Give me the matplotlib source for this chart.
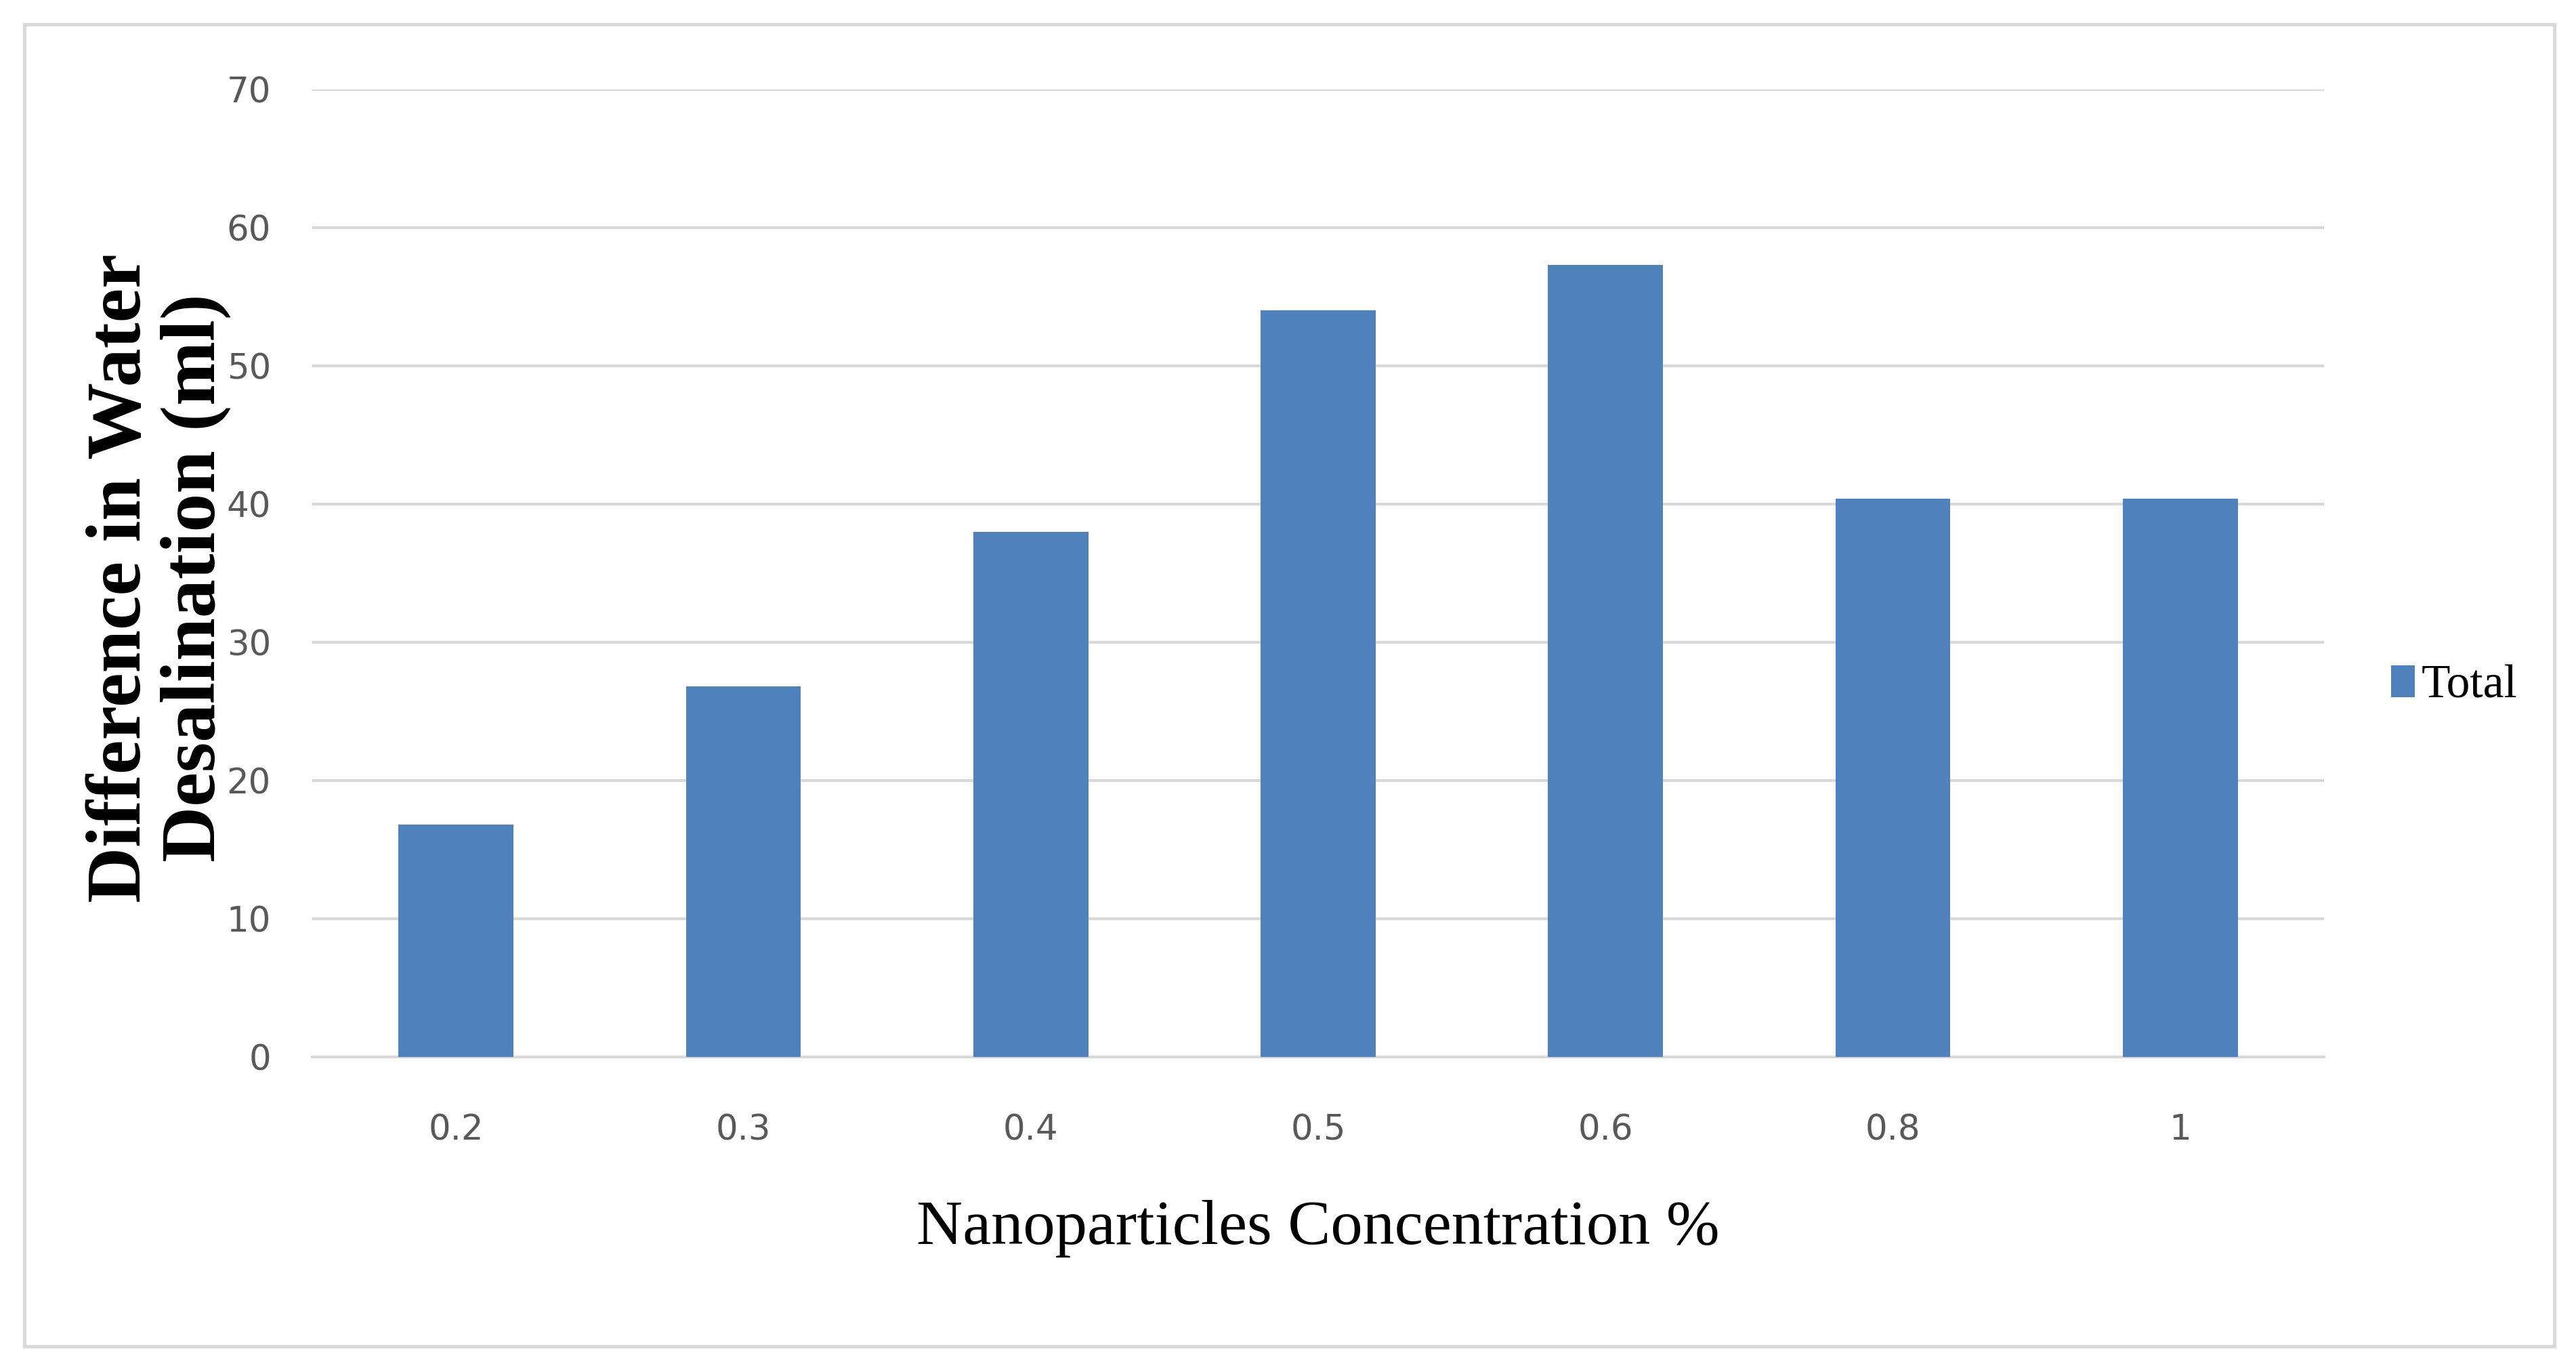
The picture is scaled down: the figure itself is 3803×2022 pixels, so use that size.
import matplotlib
matplotlib.use("Agg")
import matplotlib.pyplot as plt
from matplotlib.patches import Rectangle, Patch

categories = ["0.2", "0.3", "0.4", "0.5", "0.6", "0.8", "1"]
totals = [16.8, 26.8, 38.0, 54.0, 57.3, 40.4, 40.4]
yticks = [0, 10, 20, 30, 40, 50, 60, 70]
series_name = "Total"

W, H = 3803, 2022
DPI = 100
fig = plt.figure(figsize=(W / DPI, H / DPI), dpi=DPI, facecolor="white")

# outer chart border
fig.patches.append(Rectangle((36 / W, 1 - 1987 / H), (3771 - 36) / W, (1987 - 36) / H,
                             transform=fig.transFigure, fill=False,
                             edgecolor="#d9d9d9", linewidth=3.5, zorder=0))

ax = fig.add_axes([461 / W, 1 - 1560 / H, (3431 - 461) / W, (1560 - 132) / H])
x = list(range(len(categories)))
ax.bar(x, totals, width=0.4, color="#4f81bd", zorder=3, label=series_name)
ax.set_xlim(-0.5, len(categories) - 0.5)
ax.set_ylim(0, 70)
ax.set_yticks(yticks)
ax.set_xticks(x)
ax.set_xticklabels(categories)
ax.grid(axis="y", color="#d9d9d9", linewidth=3.0, zorder=0)
ax.set_axisbelow(True)
for s in ["top", "right", "left"]:
    ax.spines[s].set_visible(False)
ax.spines["bottom"].set_color("#d9d9d9")
ax.spines["bottom"].set_linewidth(3.0)

tick_font = ["Liberation Sans Narrow", "DejaVu Sans"]
for lab in ax.get_xticklabels() + ax.get_yticklabels():
    lab.set_fontfamily(tick_font)
    lab.set_fontsize(37)
    lab.set_color("#595959")
ax.tick_params(axis="y", length=0, pad=44)
ax.tick_params(axis="x", length=0, pad=60)

ax.set_ylabel("Difference in Water\nDesalination (ml)", fontfamily="Liberation Serif",
              fontweight="bold", fontsize=82, linespacing=1.08, color="black")
ax.yaxis.label.set_verticalalignment("center")
ax.yaxis.label.set_horizontalalignment("center")
ax.yaxis.set_label_coords((234 - 461) / (3431 - 461), (1560 - 853) / (1560 - 132))

ax.set_xlabel("Nanoparticles Concentration %", fontfamily="Liberation Serif",
              fontsize=68, color="black")
ax.xaxis.label.set_verticalalignment("center")
ax.xaxis.set_label_coords(0.5, -(1814 - 1560) / 1428)

handle = Patch(facecolor="#4f81bd", edgecolor="none")
fig.legend([handle], [series_name], loc="center left",
           bbox_to_anchor=(3530 / W, 1 - 1013 / H), frameon=False,
           prop={"family": "Liberation Serif", "size": 50},
           handlelength=0.5, handleheight=0.65, handletextpad=0.15,
           borderpad=0, borderaxespad=0)

fig.savefig("out.png", dpi=DPI, facecolor="white")
